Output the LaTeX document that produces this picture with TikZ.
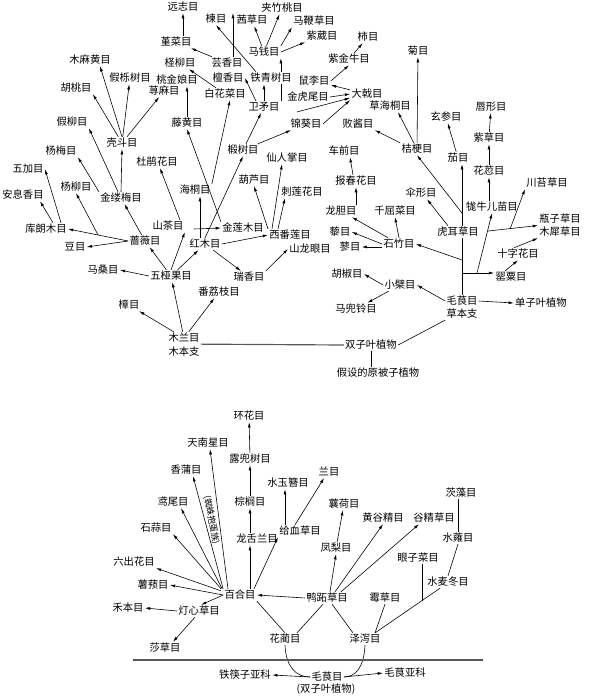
\documentclass[tikz,border=0pt]{standalone}
\usepackage{fontspec}
\setmainfont{Noto Sans CJK SC}
\usepackage{tikz}
\usetikzlibrary{arrows.meta,calc}

\begin{document}
\begin{tikzpicture}[x=0.03cm,y=-0.03cm,
      ord/.style={inner sep=1pt,font=\fontsize{8.8}{10}\selectfont},
      arr/.style={-{Latex[length=4.5pt,width=2.5pt]},line width=0.5pt},
      lnk/.style={line width=0.5pt},
      bar/.style={line width=1pt,color=black!65}
    ]
  \useasboundingbox (0,0) rectangle (600,697);
  \node[ord] (yuanzhi) at (183,7) {远志目};
  \node[ord] (jincai) at (176,42) {堇菜目};
  \node[ord] (lian) at (216,19) {楝目};
  \node[ord] (qiancao) at (252,20) {茜草目};
  \node[ord] (jiazhutao) at (282,8) {夹竹桃目};
  \node[ord] (mabiancao) at (314,21) {马鞭草目};
  \node[ord] (ziwei) at (322,36) {紫葳目};
  \node[ord] (maqian) at (264,52) {马钱目};
  \node[ord] (shi) at (368,37) {柿目};
  \node[ord] (zijinniu) at (349,59) {紫金牛目};
  \node[ord] (chengliu) at (180,63) {柽柳目};
  \node[ord] (yunxiang) at (227,63) {芸香目};
  \node[ord] (taojinniang) at (177,80) {桃金娘目};
  \node[ord] (tanxiang) at (228,78) {檀香目};
  \node[ord] (tieqingshu) at (271,78) {铁青树目};
  \node[ord] (shuli) at (314,81) {鼠李目};
  \node[ord] (daji) at (367,94) {大戟目};
  \node[ord] (baihuacai) at (225,94) {白花菜目};
  \node[ord] (jinhuwei) at (308,97) {金虎尾目};
  \node[ord] (weimao) at (264,107) {卫矛目};
  \node[ord] (caohaitong) at (390,106) {草海桐目};
  \node[ord] (jinkui) at (306,124) {锦葵目};
  \node[ord] (baijiang) at (358,124) {败酱目};
  \node[ord] (ju) at (418,51) {菊目};
  \node[ord] (xuanshen) at (446,117) {玄参目};
  \node[ord] (chunxing) at (491,107) {唇形目};
  \node[ord] (zicao) at (489,138) {紫草目};
  \node[ord] (jiegeng) at (417,149) {桔梗目};
  \node[ord] (qie) at (458,158) {茄目};
  \node[ord] (huarong) at (489,171) {花荵目};
  \node[ord] (mumahuang) at (90,60) {木麻黄目};
  \node[ord] (jialishu) at (130,78) {假栎树目};
  \node[ord] (hutao) at (76,88) {胡桃目};
  \node[ord] (qianma) at (164,91) {荨麻目};
  \node[ord] (jialiu) at (72,122) {假柳目};
  \node[ord] (kedou) at (122,143) {壳斗目};
  \node[ord] (tenghuang) at (187,123) {藤黄目};
  \node[ord] (yangmei) at (61,151) {杨梅目};
  \node[ord] (dujuan) at (157,162) {杜鹃花目};
  \node[ord] (wujia) at (28,169) {五加目};
  \node[ord] (duanshu) at (243,150) {椴树目};
  \node[ord] (xianrenzhang) at (287,158) {仙人掌目};
  \node[ord] (cheqian) at (344,151) {车前目};
  \node[ord] (yangliu) at (76,187) {杨柳目};
  \node[ord] (jinlvmei) at (121,198) {金缕梅目};
  \node[ord] (anxixiang) at (23,195) {安息香目};
  \node[ord] (kulangmu) at (46,229) {库朗木目};
  \node[ord] (shancha) at (168,226) {山茶目};
  \node[ord] (qiangwei) at (145,241) {蔷薇目};
  \node[ord] (dou) at (75,247) {豆目};
  \node[ord] (masang) at (103,270) {马桑目};
  \node[ord] (wuyaguo) at (171,276) {五桠果目};
  \node[ord] (zhang) at (129,305) {樟目};
  \node[ord] (mulan) at (184,338) {木兰目};
  \node[ord] (mubenzhi) at (184,352) {木本支};
  \node[ord] (haitong) at (195,190) {海桐目};
  \node[ord] (hulu) at (254,180) {葫芦目};
  \node[ord] (cilianhua) at (302,192) {刺莲花目};
  \node[ord] (jinlianmu) at (243,228) {金莲木目};
  \node[ord] (hongmu) at (205,244) {红木目};
  \node[ord] (xifanlian) at (290,235) {西番莲目};
  \node[ord] (shanlongyan) at (310,249) {山龙眼目};
  \node[ord] (ruixiang) at (249,277) {瑞香目};
  \node[ord] (fanlizhi) at (219,292) {番荔枝目};
  \node[ord] (baochunhua) at (356,181) {报春花目};
  \node[ord] (longdan) at (341,211) {龙胆目};
  \node[ord] (qianqucai) at (395,211) {千屈菜目};
  \node[ord] (li) at (340,232) {藜目};
  \node[ord] (liao) at (350,247) {蓼目};
  \node[ord] (shizhu) at (399,244) {石竹目};
  \node[ord] (hujiao) at (347,274) {胡椒目};
  \node[ord] (xiaobo) at (400,285) {小檗目};
  \node[ord] (madouling) at (356,309) {马兜铃目};
  \node[ord] (maogen) at (462,301) {毛茛目};
  \node[ord] (caobenzhi) at (462,314) {草本支};
  \node[ord] (danziye) at (541,303) {单子叶植物};
  \node[ord] (huercao) at (458,232) {虎耳草目};
  \node[ord] (sanxing) at (421,193) {伞形目};
  \node[ord] (chuantaicao) at (547,183) {川苔草目};
  \node[ord] (pingzicao) at (560,219) {瓶子草目};
  \node[ord] (muxicao) at (560,232) {木犀草目};
  \node[ord] (shizihua) at (518,254) {十字花目};
  \node[ord] (yingsu) at (511,277) {罂粟目};
  \node[ord] (niuer) at (492,207) {牻牛儿苗目};
  \node[ord] (shuangzi) at (371,345) {双子叶植物};
  \node[ord] (yuanbeizi) at (378,373) {假设的原被子植物};

  \node[ord] (huanhua) at (249,416) {环花目};
  \node[ord] (tiannanxing) at (208,443) {天南星目};
  \node[ord] (ludoushu) at (250,459) {露兜树目};
  \node[ord] (xiangpu) at (186,470) {香蒲目};
  \node[ord] (shuiyuzan) at (288,483) {水玉簪目};
  \node[ord] (lan) at (329,472) {兰目};
  \node[ord] (yuanwei) at (173,502) {鸢尾目};
  \node[ord] (zonglv) at (250,502) {棕榈目};
  \node[ord] (shisuan) at (156,528) {石蒜目};
  \node[ord] (longshelan) at (257,539) {龙舌兰目};
  \node[ord] (geixuecao) at (300,531) {给血草目};
  \node[ord] (liuchuhua) at (134,562) {六出花目};
  \node[ord] (shuyu) at (153,585) {薯蓣目};
  \node[ord] (baihe) at (240,595) {百合目};
  \node[ord,inner sep=0pt,font=\fontsize{7.4}{8}\selectfont,rotate=-79] (zhizhu) at (211.5,520) {(蜘蛛抱蛋族)};
  \node[ord] (xianghe) at (344,504) {蘘荷目};
  \node[ord] (huanggujing) at (383,518) {黄谷精目};
  \node[ord] (gujingcao) at (434,518) {谷精草目};
  \node[ord] (cizao) at (461,493) {茨藻目};
  \node[ord] (shuiweng) at (458,538) {水蕹目};
  \node[ord] (fengli) at (336,548) {凤梨目};
  \node[ord] (yanzicai) at (418,558) {眼子菜目};
  \node[ord] (shuimaidong) at (448,582) {水麦冬目};
  \node[ord] (yazhicao) at (327,598) {鸭跖草目};
  \node[ord] (meicao) at (385,598) {霉草目};
  \node[ord] (heben) at (128,608) {禾本目};
  \node[ord] (dengxincao) at (199,611) {灯心草目};
  \node[ord] (shacao) at (165,648) {莎草目};
  \node[ord] (hualin) at (285,639) {花蔺目};
  \node[ord] (zexie) at (365,639) {泽泻目};
  \node[ord] (tiekuaizi) at (245,675) {铁筷子亚科};
  \node[ord] (maogenB) at (327,677) {毛茛目};
  \node[ord] (shuangziB) at (326,689) {(双子叶植物)};
  \node[ord] (maogenyake) at (405,673) {毛茛亚科};

  \draw[arr] (jincai.north -| yuanzhi.south) -- (yuanzhi.south);
  \draw[arr] (yunxiang) -- (jincai);
  \coordinate (qcl) at (233,13);
  \draw[arr] (yunxiang.north -| qcl) -- (qcl);
  \draw[arr] ($(tieqingshu.north west)+(7,0)$) -- (lian.south);
  \draw[arr] ($(weimao.north)+(-8,0)$) -- (tanxiang.east);
  \draw[arr] (weimao.north) -- (weimao.north |- tieqingshu.south);
  \draw[lnk] (weimao.north east) -- (weimao.north east |- tieqingshu.south);
  \draw[arr] (weimao.north east |- tieqingshu.north) -- (weimao.north east |- maqian.south);
  \draw[arr] (maqian) -- (qiancao);
  \draw[arr] (maqian) -- (jiazhutao);
  \draw[arr] (maqian.north east) -- (mabiancao.south west);
  \draw[arr] (maqian.east) -- (ziwei.south west);
  \draw[arr] (daji) -- (shuli);
  \draw[arr] (shuli.east) -- (zijinniu.south);
  \draw[arr] (zijinniu) -- (shi);
  \draw[arr] (jinhuwei.east) -- (daji.west);
  \draw[arr] ($(weimao.east)+(16,5)$) -- ($(daji.west)+(0,4)$);
  \draw[arr] (jinkui.east) -- (daji.south west);
  \draw[arr] (duanshu) -- (weimao);
  \draw[arr] (duanshu) -- (jinkui);
  \draw[arr] (baihuacai) -- (chengliu);
  \draw[arr] (tenghuang.north) -- (tenghuang.north |- taojinniang.south);
  \draw[arr] (haitong.north east) -- ($(baihuacai.south)+(5,0)$);
  \draw[arr] (jinlianmu.north west) -- (tenghuang.south);
  \draw[arr] (hongmu.north) -- (duanshu.south);
  \coordinate (hx) at (200,229);
  \coordinate (hl) at (194,229);
  \draw[arr] (hx |- hongmu.north) -- (hx |- haitong.south);
  \draw[arr] (hl) -- (jinlianmu.west);
  \draw[arr] (wuyaguo.north) -- (shancha.south east);
  \draw[arr] (wuyaguo) -- (hongmu);
  \draw[arr] (wuyaguo) -- (qiangwei);
  \draw[arr] (wuyaguo.west) -- (masang.east);
  \draw[arr] (mulan) -- (zhang);
  \draw[arr] (mulan) -- (wuyaguo);
  \draw[arr] (mulan) -- (fanlizhi);
  \draw[bar] (mulan.south east) -- (shuangzi.west);
  \draw[lnk] (shuangzi.east) -- (caobenzhi.south west);
  \draw[lnk] (shuangzi.south) -- (shuangzi.south |- yuanbeizi.north);

  \draw[arr] (qiangwei) -- (jinlvmei);
  \draw[arr] (qiangwei.west) -- (kulangmu.east);
  \draw[arr] (qiangwei.west) -- (dou.east);
  \coordinate (ql) at ($(qiangwei.west)!0.5!(kulangmu.east)$);
  \draw[arr] (ql) -- (yangliu.south);
  \draw[arr] ($(kulangmu.north)+(15,0)$) -- (wujia.east);
  \draw[arr] ($(kulangmu.north)+(7,0)$) -- ($(anxixiang.south)+(17,0)$);
  \draw[arr] (jinlvmei.north) -- (kedou.south);
  \draw[arr] ($(jinlvmei.north)+(-3,0)$) -- (jialiu.south east);
  \draw[arr] (jinlvmei.north west) -- (yangmei.south east);
  \draw[arr] (kedou.north) -- ($(mumahuang.south)+(10,0)$);
  \draw[arr] (kedou) -- (hutao.south east);
  \draw[arr] (kedou) -- (jialishu);
  \draw[arr] (kedou) -- (qianma);
  \draw[arr] ($(shancha.north)+(12,0)$) -- ($(dujuan.south)+(3,0)$);
  \draw[arr] (hongmu.east) -- (xifanlian.west);
  \draw[arr] (hongmu) -- (ruixiang);
  \draw[arr] (ruixiang.north east) -- (shanlongyan.west);
  \draw[arr] (xifanlian.north west) -- (hulu.south);
  \draw[arr] ($(xifanlian.north)+(-18,0)$) -- ($(xianrenzhang.south)+(-5,0)$);
  \draw[arr] ($(xifanlian.north)+(-12,0)$) -- ($(cilianhua.south west)+(5,0)$);

  \draw[arr] (maogen.east) -- (danziye.west);
  \draw[arr] (maogen.west) -- (xiaobo.east);
  \draw[arr] (xiaobo.west) -- (hujiao.east);
  \draw[arr] (xiaobo) -- (madouling);
  \draw[lnk] (maogen.north) -- (maogen.north |- huercao.south);
  \draw[arr] (maogen.north |- huercao.north) -- (maogen.north |- qie.south);
  \coordinate (t1) at (462,260);
  \coordinate (t2) at (462,273);
  \coordinate (t3) at (477,273);
  \coordinate (t6) at (462,213);
  \draw[arr] (t1) -- (shizhu.east);
  \draw[arr] (t2) -- (t2 -| yingsu.west);
  \draw[arr] (t3) -- (niuer.south);
  \coordinate (pm) at ($(pingzicao.south west)!0.5!(muxicao.north west)$);
  \coordinate (t4) at ($(t3)!0.7!(niuer.south)$);
  \coordinate (t5) at ($(t4)!0.45!(pm)$);
  \draw[arr] (t4) -- (pm);
  \draw[arr] (t5) -- (chuantaicao.south west);
  \draw[arr] ($(yingsu.north)+(-6,0)$) -- (shizihua.south);
  \draw[arr] ($(shizihua.north)+(-4,0)$) -- (muxicao.south west);
  \draw[arr] (niuer.north -| huarong) -- (huarong.south);
  \draw[arr] (huarong) -- (zicao);
  \draw[arr] (zicao) -- (chunxing);
  \draw[arr] (t6) -- (jiegeng.south);
  \draw[arr] ($(huercao.north)+(-10,0)$) -- ($(sanxing.south)+(6,0)$);
  \draw[arr] (qie) -- (xuanshen);
  \draw[arr] (jiegeng) -- (ju);
  \draw[arr] (jiegeng) -- ($(caohaitong.south)+(8,0)$);
  \draw[arr] (jiegeng.north west) -- (baijiang.south east);
  \draw[arr] (shizhu.north) -- (qianqucai.south);
  \draw[arr] (shizhu) -- (longdan);
  \draw[arr] (shizhu.west) -- (li.east);
  \draw[arr] (liao.east -| shizhu.west) -- (liao.east);
  \draw[arr] ($(longdan.north)+(15,0)$) -- (baochunhua.south);
  \draw[arr] ($(baochunhua.north)+(-3,0)$) -- ($(cheqian.south)+(6,0)$);

  \draw[arr] (yazhicao.west) -- (baihe.east);
  \draw[arr] (baihe.west) -- (shuyu.east);
  \draw[arr] ($(baihe.north west)+(-2,2)$) -- (liuchuhua.south east);
  \draw[arr] ($(baihe.north west)+(-2,0)$) -- (shisuan.south east);
  \draw[arr] ($(baihe.north west)+(-1,0)$) -- ($(yuanwei.south)+(8,0)$);
  \draw[arr] (baihe.north west) -- ($(xiangpu.south)+(7,0)$);
  \draw[arr] ($(baihe.north)+(-12,0)$) -- ($(tiannanxing.south)+(2,0)$);
  \draw[arr] (baihe.north -| zonglv) -- (longshelan.south -| zonglv);
  \draw[arr] (longshelan.north -| zonglv) -- (zonglv.south);
  \draw[arr] (zonglv) -- (ludoushu);
  \draw[arr] (ludoushu) -- (huanhua);
  \draw[arr] ($(baihe.north)+(14,0)$) -- (geixuecao.south west);
  \draw[arr] ($(geixuecao.north)+(-15,0)$) -- ($(shuiyuzan.south)+(-3,0)$);
  \draw[arr] ($(geixuecao.north)+(-5,0)$) -- ($(lan.south)+(-5,0)$);
  \draw[arr] ($(yazhicao.north)+(3,0)$) -- (fengli.south);
  \draw[arr] (fengli) -- (xianghe);
  \draw[arr] ($(yazhicao.north)+(8,0)$) -- (huanggujing.south);
  \draw[arr] ($(yazhicao.north east)+(-8,0)$) -- ($(gujingcao.south)+(-15,0)$);
  \draw[arr] (baihe.west) -- ($(dengxincao.north)+(2,0)$);
  \draw[arr] (dengxincao.west) -- (heben.east);
  \draw[arr] ($(dengxincao.south)+(-4,0)$) -- ($(shacao.north)+(8,0)$);
  \draw[lnk] (hualin.north) -- (baihe.south east);
  \draw[lnk] ($(hualin.north)+(12,0)$) -- ($(yazhicao.south)+(-4,0)$);
  \draw[lnk] ($(zexie.north)+(-12,0)$) -- ($(yazhicao.south)+(5,0)$);
  \coordinate (z1) at ($(zexie.north)+(10,0)$);
  \coordinate (z2) at ($(shuimaidong.south)+(-8,0)$);
  \coordinate (z3) at ($(z1)!0.723!(z2)$);
  \draw[lnk] (z1) -- (meicao.south);
  \draw[lnk] (z1) -- (z2);
  \draw[lnk] (yanzicai.south -| z3) -- (z3);
  \draw[lnk] (shuimaidong.north) -- (shuiweng.south);
  \draw[lnk] (shuiweng.north) -- (shuiweng.north |- cizao.south);
  \draw[lnk] (hualin.south) .. controls ($(hualin.south)+(1,22)$) and ($(maogenB.west)+(-14,0)$) .. (maogenB.west);
  \draw[lnk] (zexie.south) .. controls ($(zexie.south)+(-1,22)$) and ($(maogenB.east)+(12,0)$) .. (maogenB.east);
  \draw[arr] (maogenB.west) -- (tiekuaizi.east);
  \draw[arr] (maogenB.east) -- (maogenyake.west);
  \coordinate (r1) at (133,660);
  \coordinate (r2) at (483,660);
  \draw[bar] (r1) -- (r2);
\end{tikzpicture}
\end{document}
